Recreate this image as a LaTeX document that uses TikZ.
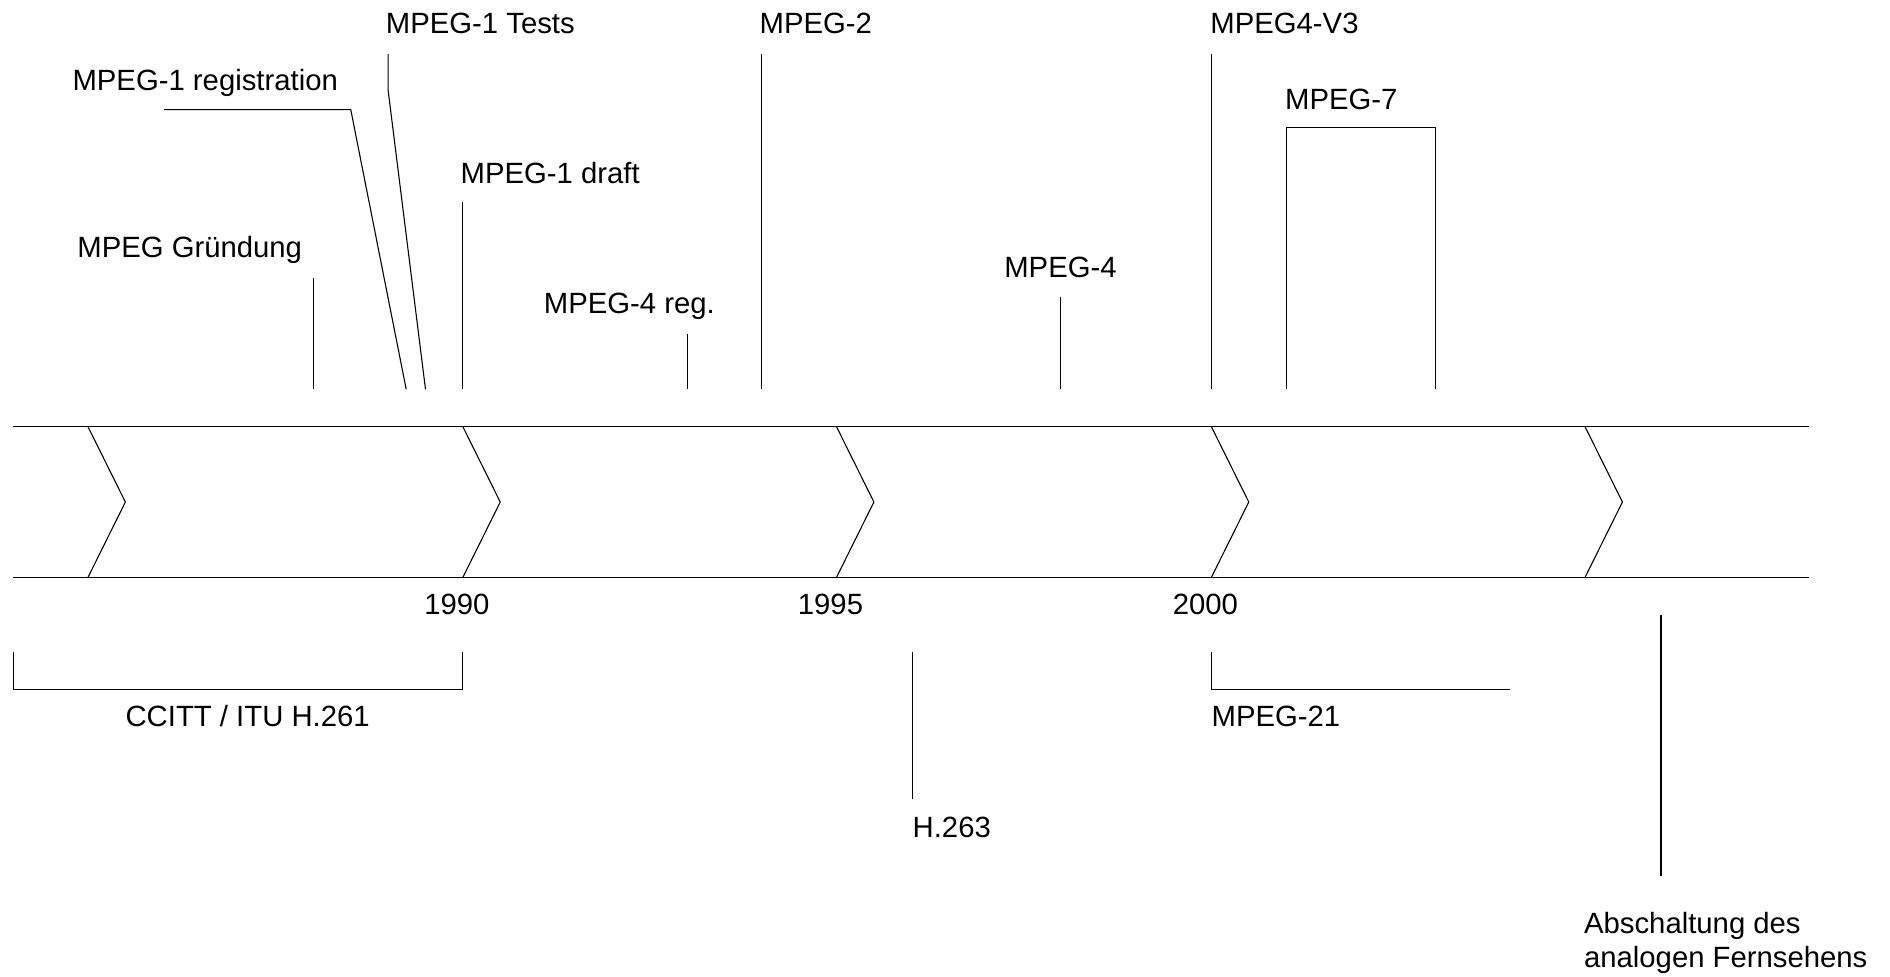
\documentclass[tikz,border=0pt]{standalone}
\usepackage{fontspec}
\setmainfont{Liberation Sans}
\begin{document}
\begin{tikzpicture}[x=1pt,y=-1pt,
  lbl/.style={anchor=base west,inner sep=0pt,font=\fontsize{24.3}{27.5}\selectfont},
  yr/.style={anchor=base,inner sep=0pt,font=\fontsize{24.3}{27.5}\selectfont},
  tick/.style={line width=0.9pt,line join=miter},
  band/.style={line width=1.3pt}]
\useasboundingbox (0,0) rectangle (1568,810);

% time band with chevrons
\coordinate (bandTL) at (11,354);  \coordinate (bandTR) at (1501,354);
\coordinate (bandBL) at (11,479);  \coordinate (bandBR) at (1501,479);
\draw[band] (bandTL) -- (bandTR);
\draw[band] (bandBL) -- (bandBR);
\foreach \x/\n in {73/a,384/b,694/c,1005/d,1315/e}{
  \coordinate (chev\n top) at (\x,354);
  \coordinate (chev\n tip) at ({\x+31},416.5);
  \coordinate (chev\n bot) at (\x,479);
  \draw[tick] (chev\n top) -- (chev\n tip) -- (chev\n bot);
}

% years
\node[yr] (y1990) at (379,510) {1990};
\node[yr] (y1995) at (689,510) {1995};
\node[yr] (y2000) at (1000,510) {2000};

% events above the band
\node[lbl] (gruend) at (64,214) {MPEG Gründung};
\coordinate (gruendA) at (260,231); \coordinate (gruendB) at (260,323);
\draw[tick] (gruendA) -- (gruendB);

\node[lbl] (reg1) at (60,75) {MPEG-1 registration};
\coordinate (reg1A) at (136,91); \coordinate (reg1B) at (291,91); \coordinate (reg1C) at (337,323);
\draw[tick] (reg1A) -- (reg1B) -- (reg1C);

\node[lbl] (tests) at (320,28) {MPEG-1 Tests};
\coordinate (testsA) at (322,45); \coordinate (testsB) at (322,75); \coordinate (testsC) at (353,323);
\draw[tick] (testsA) -- (testsB) -- (testsC);

\node[lbl] (draft) at (382,152) {MPEG-1 draft};
\coordinate (draftA) at (384,168); \coordinate (draftB) at (384,323);
\draw[tick] (draftA) -- (draftB);

\node[lbl] (reg4) at (451,260) {MPEG-4 reg.};
\coordinate (reg4A) at (570,277); \coordinate (reg4B) at (570,323);
\draw[tick] (reg4A) -- (reg4B);

\node[lbl] (mp2) at (630,28) {MPEG-2};
\coordinate (mp2A) at (632,45); \coordinate (mp2B) at (632,323);
\draw[tick] (mp2A) -- (mp2B);

\node[lbl] (mp4) at (833,230) {MPEG-4};
\coordinate (mp4A) at (880,246); \coordinate (mp4B) at (880,323);
\draw[tick] (mp4A) -- (mp4B);

\node[lbl] (mp4v3) at (1004,28) {MPEG4-V3};
\coordinate (mp4v3A) at (1005,45); \coordinate (mp4v3B) at (1005,323);
\draw[tick] (mp4v3A) -- (mp4v3B);

\node[lbl] (mp7) at (1066,91) {MPEG-7};
\coordinate (mp7A) at (1067,323); \coordinate (mp7B) at (1067,106);
\coordinate (mp7C) at (1191,106); \coordinate (mp7D) at (1191,323);
\draw[tick] (mp7A) -- (mp7B) -- (mp7C) -- (mp7D);

% events below the band
\node[lbl] (h261) at (104,603) {CCITT / ITU H.261};
\coordinate (h261A) at (11,541); \coordinate (h261B) at (11,572);
\coordinate (h261C) at (384,572); \coordinate (h261D) at (384,541);
\draw[tick] (h261A) -- (h261B) -- (h261C) -- (h261D);

\node[lbl] (h263) at (757,695) {H.263};
\coordinate (h263A) at (757,541); \coordinate (h263B) at (757,663);
\draw[tick] (h263A) -- (h263B);

\node[lbl] (mp21) at (1005,603) {MPEG-21};
\coordinate (mp21A) at (1005,541); \coordinate (mp21B) at (1005,572);
\coordinate (mp21C) at (1253,572);
\draw[tick] (mp21A) -- (mp21B) -- (mp21C);

\node[lbl,align=left,anchor=north west] (analog) at (1314,757) {Abschaltung des\\analogen Fernsehens};
\coordinate (analogA) at (1378,510); \coordinate (analogB) at (1378,727);
\draw[tick] (analogA) -- (analogB);
\end{tikzpicture}
\end{document}
